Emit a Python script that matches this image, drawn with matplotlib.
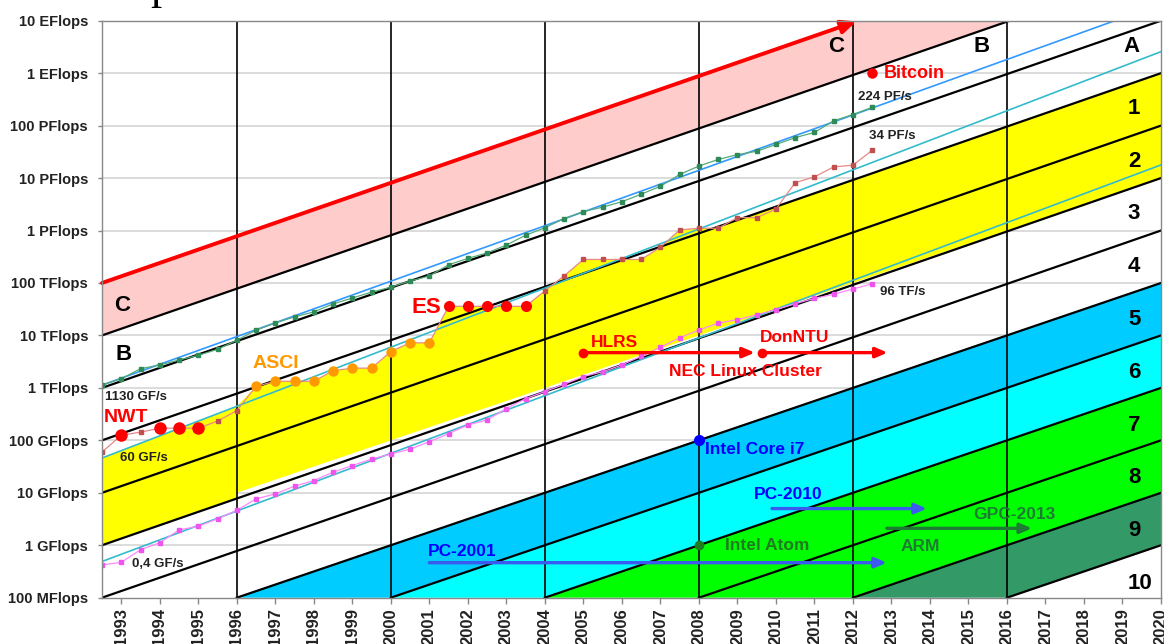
import numpy as np
import matplotlib
matplotlib.use("Agg")
import matplotlib.pyplot as plt
from matplotlib.ticker import FixedLocator, NullLocator

plt.rcParams['font.family'] = ['Liberation Sans', 'DejaVu Sans']

# ---------------- data ----------------
# Top500 lists, two per year (June 1993 ... June 2013)
list_years = 1992.5 + 0.5 * np.arange(41)

top1_gflops = [59.7, 124.5, 143.4, 170.4, 170.4, 170.4, 232.4, 368.2,
               1068, 1338, 1338, 1338, 2121, 2379, 2379, 4938, 7226, 7226,
               35860, 35860, 35860, 35860, 35860, 70720, 136800,
               280600, 280600, 280600, 280600, 478200, 1026000, 1105000,
               1105000, 1759000, 1759000, 2566000, 8162000, 10510000,
               16324751, 17590000, 33862700]

top500_gflops = [0.4216, 0.472, 0.822, 1.114, 1.96, 2.3, 3.2, 4.62, 7.67,
                 9.51, 13.39, 17.1, 24.73, 33.1, 43.82, 55.1, 67.78, 94.3,
                 134.3, 195.8, 245.1, 403.4, 624, 850.6, 1166, 1646, 2026,
                 2737, 4005, 5929, 9000, 12640, 17100, 20050, 24670, 31120,
                 40190, 50940, 60820, 76500, 96620]

sum_gflops = [1128, 1493, 2317, 2732, 3394, 4181, 5430, 8100, 12600, 17300,
              22600, 28100, 39900, 51600, 67000, 83000, 109000, 136000,
              222100, 293700, 374400, 528000, 813200, 1127000, 1690000,
              2300000, 2790000, 3540000, 4920000, 6970000, 11700000,
              16950000, 22600000, 27950000, 32400000, 43700000, 58900000,
              74200000, 123400000, 162000000, 223600000]

nwt_idx = [1, 3, 4, 5]
asci_idx = list(range(8, 18))
es_idx = list(range(18, 23))

# trend lines: (year_a, flops_a, year_b, flops_b)
sum_trend = (1992.5, 1.13e12, 2018.8, 1e19)
top1_trend = (1992.5, 4.6e10, 2020.0, 2.57e18)
top500_trend = (1992.5, 4.9e8, 2020.0, 1.78e16)

# diagonal reference lines
left_start_exp = [8, 9, 10, 11, 12, 13]          # start at 10^exp in 1992.5, reach 10^(exp+7) in 2020
bottom_start_years = [1996, 2000, 2004, 2008, 2012, 2016]   # start at 100 MFlops, x10 every 4 years
red_start_exp = 14

band_colors = ['#00CCFF', '#00FFFF', '#00FF00', '#00FF00', '#339966']
band_labels = ['1', '2', '3', '4', '5', '6', '7', '8', '9', '10']
band_label_exp = [17.32, 16.32, 15.33, 14.32, 13.3, 12.3, 11.28, 10.3, 9.29, 8.28]

y_tick_labels = ['100 MFlops', '1 GFlops', '10 GFlops', '100 GFlops', '1 TFlops',
                 '10 TFlops', '100 TFlops', '1 PFlops', '10 PFlops', '100 PFlops',
                 '1 EFlops', '10 EFlops']
x_tick_years = list(range(1993, 2021))
block_years = [1996, 2000, 2004, 2008, 2012, 2016]

# machines / single points
hlrs = (2005.0, 4.7e12)
donntu = (2009.63, 4.7e12)
bitcoin = (2012.5, 1e18)
core_i7 = (2008.0, 1e11)
atom = (2008.0, 1e9)

X0, X1 = 1992.5, 2020.0
Y0, Y1 = 1e8, 1e19
SL = 7.0 / (X1 - X0)   # decades per year of the left-edge lines


def left_line(exp, t):
    return 10 ** (exp + SL * (np.asarray(t, float) - X0))


def bottom_line(t0, t):
    return 10 ** (8 + (np.asarray(t, float) - t0) / 4.0)


def loglin(p, t):
    xa, ya, xb, yb = p
    la, lb = np.log10(ya), np.log10(yb)
    return 10 ** (la + (lb - la) * (np.asarray(t, float) - xa) / (xb - xa))


# ---------------- figure ----------------
fig = plt.figure(figsize=(11.64, 6.44), dpi=100)
ax = fig.add_axes([102 / 1164, 46.3 / 644, (1161 - 102) / 1164, (597.7 - 20.7) / 644])
ax.set_yscale('log')
ax.set_xlim(X0, X1)
ax.set_ylim(Y0, Y1)

# horizontal grid
for k in range(9, 19):
    ax.axhline(10 ** k, color='#D9D9D9', lw=1.3, zorder=0.5)

# pink band between red line and the next line
ax.fill([X0, X1, X1, X0],
        [10 ** red_start_exp, left_line(red_start_exp, X1),
         left_line(13, X1), 10 ** 13],
        color='#FFCCCC', lw=0, zorder=1)

# yellow band
yt_x = [X0, 1996.0] + list(list_years[8:33]) + [2009.0, X1]
yt_y = list(loglin(top1_trend, [X0, 1996.0])) + list(top1_gflops[8:33] * np.array(1e9)) \
    + list(left_line(11, [2009.0, X1]))
yb_x = [X1, 1996.0, 1996.0, X0]
yb_y = [1e16, 1e10, float(left_line(9, 1996.0)), 1e9]
ax.fill(yt_x + yb_x, yt_y + yb_y, color='#FFFF00', lw=0, zorder=1)

# lower bands between consecutive bottom lines
for i, col in enumerate(band_colors):
    a, b = bottom_start_years[i], bottom_start_years[i + 1]
    ax.fill([a, X1, X1, b], [Y0, bottom_line(a, X1), bottom_line(b, X1), Y0],
            color=col, lw=0, zorder=1)

# vertical block lines
for yr in block_years:
    ax.axvline(yr, color='black', lw=1.2, zorder=2)

# diagonal lines
for e in left_start_exp:
    ax.plot([X0, X1], [10 ** e, left_line(e, X1)], color='black', lw=1.6, zorder=2.2)
for t0 in bottom_start_years:
    ax.plot([t0, X1], [Y0, bottom_line(t0, X1)], color='black', lw=1.6, zorder=2.2)

# red line with arrow
t_red = X0 + (19 - red_start_exp) / SL
ax.annotate('', xy=(t_red - 0.05, left_line(red_start_exp, t_red - 0.05)),
            xytext=(X0, 10 ** red_start_exp),
            arrowprops=dict(arrowstyle='-|>,head_length=0.9,head_width=0.4',
                            color='#FF0000', lw=2.8, shrinkA=0, shrinkB=0),
            zorder=3)

# trend lines
tx = np.array([X0, X1])
ax.plot([sum_trend[0], sum_trend[2]], [sum_trend[1], sum_trend[3]],
        color='#3399FF', lw=1.2, zorder=3)
ax.plot(tx, loglin(top1_trend, tx), color='#33BBCC', lw=1.2, zorder=3)
ax.plot(tx, loglin(top500_trend, tx), color='#33BBCC', lw=1.2, zorder=3)

# Top500 series
sum_v = np.array(sum_gflops) * 1e9
top1_v = np.array(top1_gflops) * 1e9
top500_v = np.array(top500_gflops) * 1e9
ax.plot(list_years, sum_v, color='#55AA77', lw=0.9, marker='s', ms=3,
        mfc='#2E8B57', mec='#2E8B57', zorder=4)
ax.plot(list_years, top500_v, color='#FF88FF', lw=0.9, marker='s', ms=3,
        mfc='#EE55EE', mec='#EE55EE', zorder=4)
ax.plot(list_years, top1_v, color='#E88888', lw=0.9, marker='s', ms=3,
        mfc='#C0504D', mec='#C0504D', zorder=4)

ax.plot(list_years[nwt_idx], top1_v[nwt_idx], 'o', color='#FF0000', ms=9, mec='none', zorder=5)
ax.plot(list_years[asci_idx], top1_v[asci_idx], 'o', color='#FF9900', ms=7.5, mec='none', zorder=5)
ax.plot(list_years[es_idx], top1_v[es_idx], 'o', color='#FF0000', ms=8, mec='none', zorder=5)

# HLRS -> DonNTU arrows
ax.annotate('', xy=(donntu[0] - 0.18, hlrs[1]), xytext=hlrs,
            arrowprops=dict(arrowstyle='-|>,head_length=0.7,head_width=0.3',
                            color='#FF0000', lw=2.4, shrinkA=0, shrinkB=0), zorder=5)
ax.annotate('', xy=(2012.9, donntu[1]), xytext=donntu,
            arrowprops=dict(arrowstyle='-|>,head_length=0.7,head_width=0.3',
                            color='#FF0000', lw=2.4, shrinkA=0, shrinkB=0), zorder=5)
ax.plot(*hlrs, 'o', color='#FF0000', ms=7, mec='none', zorder=6)
ax.plot(*donntu, 'o', color='#FF0000', ms=7, mec='none', zorder=6)

# PC arrows
ax.annotate('', xy=(2012.88, 4.65e8), xytext=(2001.0, 4.65e8),
            arrowprops=dict(arrowstyle='-|>,head_length=0.7,head_width=0.3',
                            color='#3A5AF0', lw=2.4, shrinkA=0, shrinkB=0), zorder=5)
ax.annotate('', xy=(2013.92, 5.0e9), xytext=(2009.9, 5.0e9),
            arrowprops=dict(arrowstyle='-|>,head_length=0.7,head_width=0.3',
                            color='#3A5AF0', lw=2.4, shrinkA=0, shrinkB=0), zorder=5)
ax.annotate('', xy=(2016.65, 2.1e9), xytext=(2012.88, 2.1e9),
            arrowprops=dict(arrowstyle='-|>,head_length=0.7,head_width=0.3',
                            color='#1E7B34', lw=2.4, shrinkA=0, shrinkB=0), zorder=5)

ax.plot(*core_i7, 'o', color='#0000FF', ms=8, mec='none', zorder=6)
ax.plot(*atom, 'o', color='#1E7B1E', ms=7, mec='none', zorder=6)
ax.plot(*bitcoin, 'o', color='#FF0000', ms=7.5, mec='none', zorder=6)

# ---------------- texts ----------------
def t(x, y, s, size, color='black', ha='left', **kw):
    ax.text(x, y, s, fontsize=size, color=color, ha=ha, va='center',
            fontweight='bold', zorder=7, **kw)

t(1993.02, 10 ** 13.58, 'C', 16, ha='center')
t(1993.07, 10 ** 12.63, 'B', 16, ha='center')
t(2011.57, 10 ** 18.5, 'C', 16, ha='center')
t(2015.33, 10 ** 18.5, 'B', 16, ha='center')
t(2019.23, 10 ** 18.5, 'A', 16, ha='center')
for lab, e in zip(band_labels, band_label_exp):
    t(2019.45 if lab == '10' else 2019.3, 10 ** e, lab, 16, ha='center')

t(2012.79, 1e18, 'Bitcoin', 13, color='#FF0000')
t(2012.14, 10 ** 17.55, '224 PF/s', 9.5, color='#222222')
t(2012.42, 10 ** 16.80, '34 PF/s', 9.5, color='#222222')
t(2012.71, 10 ** 13.83, '96 TF/s', 9.5, color='#222222')
t(1992.58, 10 ** 11.83, '1130 GF/s', 9.5, color='#222222')
t(1992.97, 10 ** 10.66, '60 GF/s', 9.5, color='#222222')
t(1993.28, 10 ** 8.64, '0,4 GF/s', 9.5, color='#222222')

t(1992.55, 10 ** 11.43, 'NWT', 14, color='#FF0000')
t(1996.4, 10 ** 12.46, 'ASCI', 14, color='#FF9900')
t(2000.55, 10 ** 13.54, 'ES', 16, color='#FF0000')
t(2005.2, 10 ** 12.86, 'HLRS', 12.5, color='#FF0000')
t(2009.59, 10 ** 12.97, 'DonNTU', 12.5, color='#FF0000')
t(2007.23, 10 ** 12.32, 'NEC Linux Cluster', 12.5, color='#FF0000')

t(2008.16, 10 ** 10.82, 'Intel Core i7', 12.5, color='#0000FF')
t(2000.97, 10 ** 8.89, 'PC-2001', 12.5, color='#0000FF')
t(2008.68, 10 ** 8.99, 'Intel Atom', 12.5, color='#1E7B1E')
t(2009.44, 10 ** 9.96, 'PC-2010', 12.5, color='#0000FF')
t(2015.13, 10 ** 9.59, 'GPC-2013', 12.5, color='#1E7B34')
t(2013.23, 10 ** 8.97, 'ARM', 12.5, color='#1E7B34')

# ---------------- axes styling ----------------
ax.yaxis.set_major_locator(FixedLocator([10.0 ** k for k in range(8, 20)]))
ax.yaxis.set_minor_locator(NullLocator())
ax.set_yticklabels(y_tick_labels)
ax.xaxis.set_major_locator(FixedLocator(x_tick_years))
ax.xaxis.set_minor_locator(NullLocator())
ax.set_xticklabels([str(y) for y in x_tick_years], rotation=90, va='top')
ax.tick_params(axis='y', length=3, width=1, color='#888888', pad=7,
               labelsize=10.5, labelcolor='#222222')
ax.tick_params(axis='x', length=4, width=1, color='#888888', pad=3.5,
               labelsize=12, labelcolor='#222222')
for lab in ax.get_xticklabels() + ax.get_yticklabels():
    lab.set_fontweight('bold')
for sp in ax.spines.values():
    sp.set_color('#888888')
    sp.set_linewidth(1.0)
    sp.set_zorder(8)

# title line cut by the upper edge
fig.text(150 / 1164, 1 + 0.5 / 644, 'p', fontsize=32, family='Liberation Serif',
         va='baseline', ha='left', color='black')

fig.savefig('out.png', dpi=100)
